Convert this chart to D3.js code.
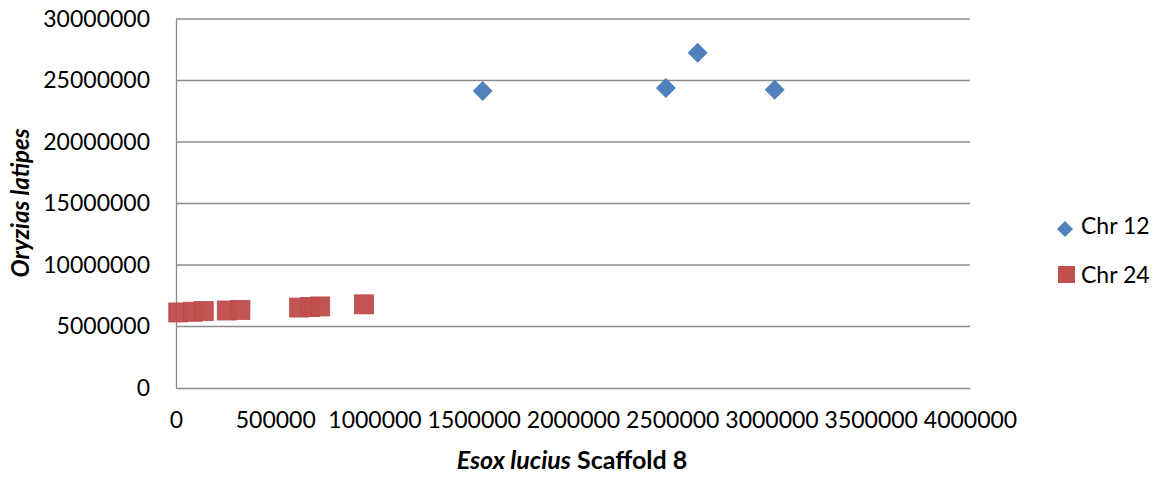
<!DOCTYPE html>
<html><head><meta charset="utf-8">
<script src="https://cdn.jsdelivr.net/npm/d3@7"></script>
<style>
html,body{margin:0;padding:0;background:#fff;}
svg{display:block;font-family:Lato, "Open Sans", sans-serif;}
</style></head>
<body>
<svg id="chart" width="1161" height="477"></svg>
<script>
const chr12X = [1545000, 2468000, 2628000, 3016000];
const chr12Y = [24150000, 24390000, 27260000, 24250000];
const chr24X = [11600, 85700, 139700, 255700, 324300, 620400, 675900, 726400, 946800];
const chr24Y = [6140000, 6200000, 6250000, 6300000, 6350000, 6540000, 6580000, 6630000, 6800000];
const xTicks = [0, 500000, 1000000, 1500000, 2000000, 2500000, 3000000, 3500000, 4000000];
const yTicks = [0, 5000000, 10000000, 15000000, 20000000, 25000000, 30000000];
const seriesNames = ["Chr 12", "Chr 24"];
const seriesColors = ["#4F81BD", "#C0504D"];

const svg = d3.select("#chart");
const x = d3.scaleLinear().domain([0, 4000000]).range([176, 970]);
const y = d3.scaleLinear().domain([0, 30000000]).range([388, 19]);

// gridlines
svg.append("g").selectAll("line").data(yTicks.slice(1)).join("line")
  .attr("x1", x(0)).attr("x2", x(4000000))
  .attr("y1", d => y(d)).attr("y2", d => y(d))
  .attr("stroke", "#8c8c8c").attr("stroke-width", 1.3);

// axes
const yAxis = d3.axisLeft(y).tickValues(yTicks).tickSize(0).tickPadding(26).tickFormat(d3.format("d"));
const gy = svg.append("g").attr("transform", `translate(${x(0)},0)`).call(yAxis);
gy.select(".domain").attr("stroke", "#8c8c8c").attr("stroke-width", 1.3);
gy.selectAll("text").attr("font-size", 23).attr("fill", "#000").attr("font-family", "Lato");

const xAxis = d3.axisBottom(x).tickValues(xTicks).tickSize(0).tickPadding(24).tickFormat(d3.format("d"));
const gx = svg.append("g").attr("transform", `translate(0,${y(0)})`).call(xAxis);
gx.select(".domain").attr("stroke", "#8c8c8c").attr("stroke-width", 1.3);
gx.selectAll("text").attr("font-size", 23).attr("fill", "#000").attr("font-family", "Lato");

// Chr 24 squares
const sq = 19;
svg.append("g").selectAll("rect").data(chr24X.map((v, i) => [v, chr24Y[i]])).join("rect")
  .attr("x", d => x(d[0]) - sq / 2).attr("y", d => y(d[1]) - sq / 2)
  .attr("width", sq).attr("height", sq)
  .attr("fill", seriesColors[1]).attr("stroke", "#b9484a").attr("stroke-width", 0.8).attr("fill-opacity", 0.97);

// Chr 12 diamonds
const dh = 10;
const diamond = (cx, cy, r) => `M${cx},${cy - r}L${cx + r},${cy}L${cx},${cy + r}L${cx - r},${cy}Z`;
svg.append("g").selectAll("path").data(chr12X.map((v, i) => [v, chr12Y[i]])).join("path")
  .attr("d", d => diamond(x(d[0]), y(d[1]), dh))
  .attr("fill", seriesColors[0]);

// axis titles
svg.append("text").attr("x", 572).attr("y", 469).attr("text-anchor", "middle")
  .attr("font-size", 25).attr("font-weight", "bold")
  .call(t => {
    t.append("tspan").attr("font-style", "italic").text("Esox lucius");
    t.append("tspan").text(" Scaffold 8");
  });
svg.append("text").attr("transform", "translate(29,203) rotate(-90)").attr("text-anchor", "middle")
  .attr("font-size", 24).attr("font-weight", "bold").attr("font-style", "italic")
  .text("Oryzias latipes");

// legend
const lg = svg.append("g");
lg.append("path").attr("d", diamond(1065, 229, 8)).attr("fill", seriesColors[0]);
lg.append("rect").attr("x", 1058).attr("y", 266).attr("width", 17).attr("height", 17).attr("fill", seriesColors[1]);
lg.selectAll("text").data(seriesNames).join("text")
  .attr("x", 1081).attr("y", (d, i) => 234 + i * 48.5)
  .attr("font-size", 23).attr("fill", "#000").text(d => d);
</script>
</body></html>
